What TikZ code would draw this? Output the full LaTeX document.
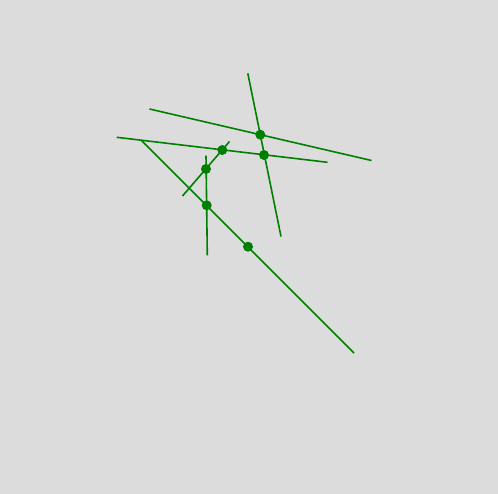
\documentclass[tikz,border=0pt]{standalone}
\usepackage{tikz}
\usetikzlibrary{positioning}
\definecolor{bggray}{HTML}{DCDCDC}
\definecolor{lngreen}{HTML}{008000}
\tikzset{
  seg/.style={draw=lngreen, line width=1.6pt},
  pt/.style={circle, fill=lngreen, minimum size=10pt, inner sep=0pt},
}
\begin{document}
\begin{tikzpicture}[x=1pt, y=-1pt]
    \fill[bggray] (0,0) rectangle (498,494);
    \useasboundingbox (0,0) rectangle (498,494);
    % end points of the segments
    \coordinate (a1) at (149.5,109);
    \coordinate (a2) at (371.5,160.5);
    \coordinate (b1) at (116.7,137.3);
    \coordinate (b2) at (327.5,162.3);
    \coordinate (c1) at (247.8,73.3);
    \coordinate (c2) at (281,236.5);
    \coordinate (d1) at (141.5,140.5);
    \coordinate (d2) at (354,353);
    \coordinate (e1) at (206,155.7);
    \coordinate (e2) at (207.3,255.3);
    \coordinate (f1) at (182.5,196);
    \coordinate (f2) at (229.5,141.5);
    \draw[seg] (a1) -- (a2);
    \draw[seg] (b1) -- (b2);
    \draw[seg] (c1) -- (c2);
    \draw[seg] (d1) -- (d2);
    \draw[seg] (e1) -- (e2);
    \draw[seg] (f1) -- (f2);
    % intersection points
    \node[pt] (ac) at (260.3,134.7) {};
    \node[pt] (bc) at (264,155) {};
    \node[pt] (bf) at (222.3,150) {};
    \node[pt] (ef) at (206,169) {};
    \node[pt] (de) at (206.7,205.3) {};
    \node[pt] (dm) at (248,246.7) {};
\end{tikzpicture}
\end{document}
